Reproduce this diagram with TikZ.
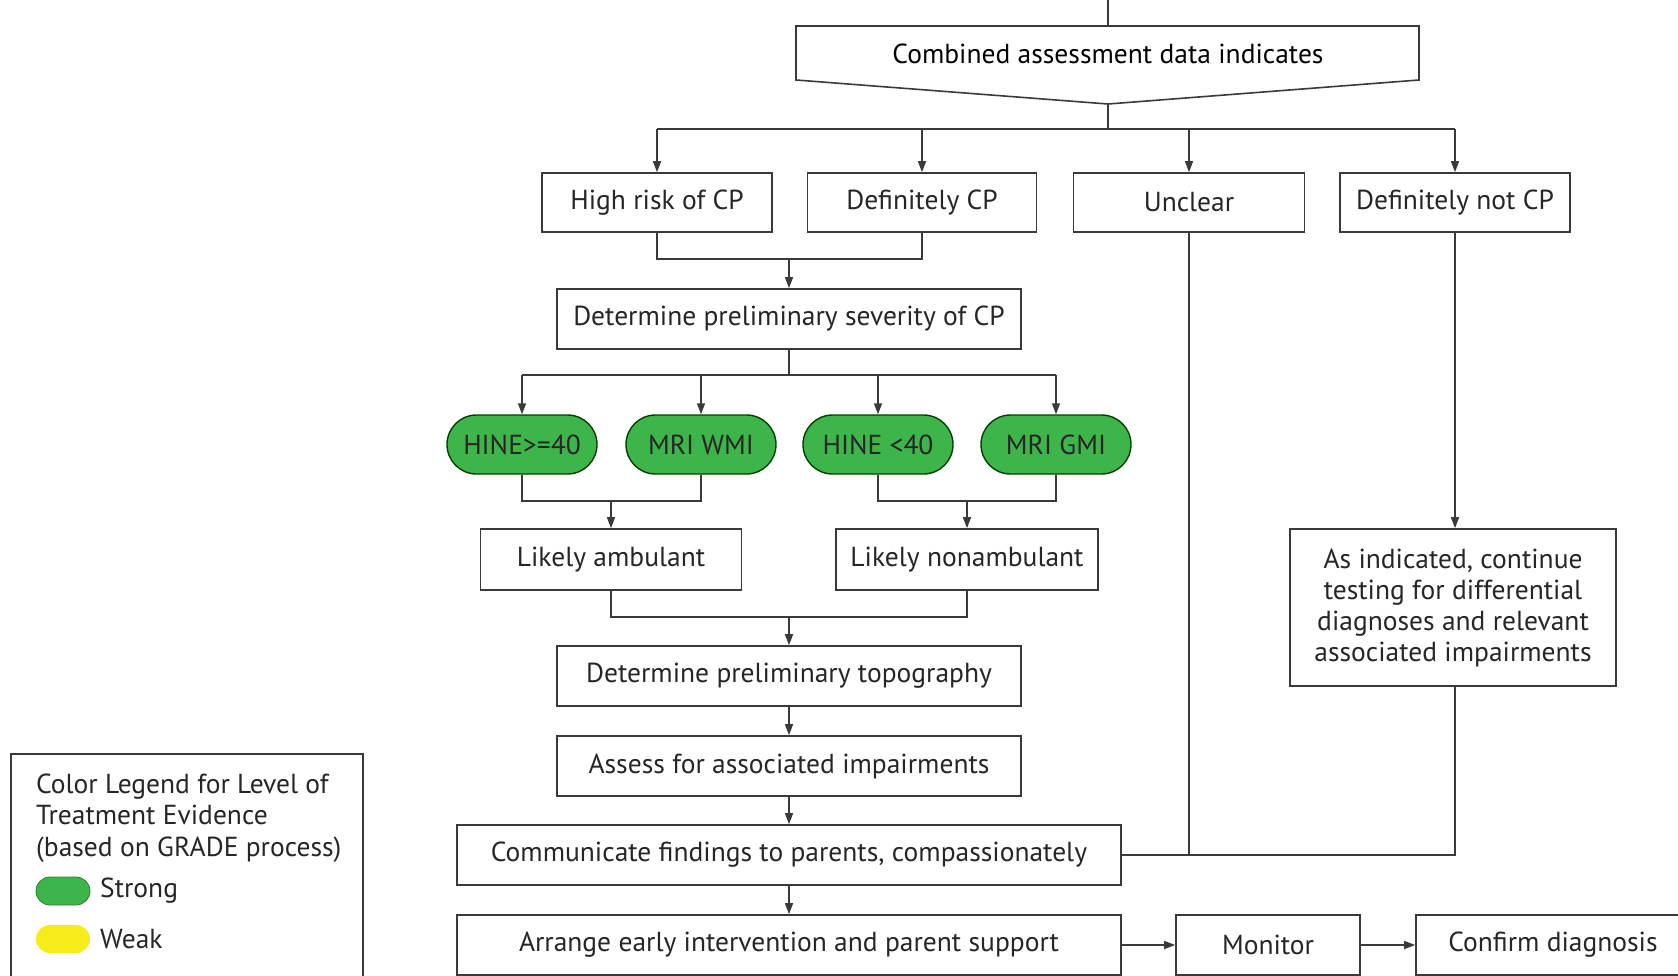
\documentclass[tikz,border=0pt]{standalone}
\usepackage{fontspec}
\setmainfont{PT Sans}
\usetikzlibrary{arrows.meta,shapes.misc}
\definecolor{ln}{HTML}{3A3A3A}
\definecolor{pillg}{HTML}{3DB54A}
\definecolor{legy}{HTML}{F7EC1B}
\begin{document}
\begin{tikzpicture}[x=1pt,y=-1pt,
  font=\fontsize{27.5}{33}\selectfont,
  box/.style={draw=ln, line width=1.6pt, fill=white, inner sep=0pt, text=black!85},
  pill/.style={rounded rectangle, draw=black!75!green, line width=1.4pt, fill=pillg, inner sep=0pt,
    minimum width=150pt, minimum height=59pt, text=black!85},
  con/.style={draw=ln, line width=1.5pt},
  arr/.style={con, -{Triangle[length=11pt,width=8pt]}}]
\useasboundingbox (0,0) rectangle (1678,976);
% combined assessment
\coordinate (top) at (1108,0);
\coordinate (combtop) at (1108,26);
\coordinate (combtip) at (1108,104);
\draw[con, line width=1.6pt] (796,26) -- (1419,26) -- (1419,80) -- (combtip) -- (796,80) -- cycle;
\node (comb) at (1108,54) {Combined assessment data indicates};
\draw[con] (top) -- (combtop);
\coordinate (bus1) at (1108,129);
\draw[con] (combtip) -- (bus1);
% row 1
\node[box, minimum width=230pt, minimum height=59pt] (high) at (657,202.5) {High risk of CP};
\node[box, minimum width=229pt, minimum height=59pt] (defcp) at (922,202.5) {Definitely CP};
\node[box, minimum width=231pt, minimum height=59pt] (unclear) at (1189,202.5) {Unclear};
\node[box, minimum width=230pt, minimum height=59pt] (notcp) at (1455,202.5) {Definitely not CP};
\draw[con] (high.north |- bus1) -- (notcp.north |- bus1);
\foreach \n in {high,defcp,unclear,notcp} \draw[arr] (\n.north |- bus1) -- (\n.north);
% severity
\coordinate (j1) at (789,259);
\draw[con] (high.south) |- (j1);
\draw[con] (defcp.south) |- (j1);
\node[box, minimum width=464pt, minimum height=60pt] (sev) at (789,319) {Determine preliminary severity of CP};
\draw[arr] (j1) -- (sev.north);
% pills
\coordinate (bus2) at (789,375);
\draw[con] (sev.south) -- (bus2);
\node[pill] (p1) at (522,444.5) {HINE>=40};
\node[pill] (p2) at (701,444.5) {MRI WMI};
\node[pill] (p3) at (878,444.5) {HINE <40};
\node[pill] (p4) at (1056,444.5) {MRI GMI};
\draw[con] (p1.north |- bus2) -- (p4.north |- bus2);
\foreach \n in {p1,p2,p3,p4} \draw[arr] (\n.north |- bus2) -- (\n.north);
% ambulant
\node[box, minimum width=261pt, minimum height=61pt] (amb) at (611,559.5) {Likely ambulant};
\node[box, minimum width=262pt, minimum height=61pt] (nonamb) at (967,559.5) {Likely nonambulant};
\coordinate (j2) at (611,501);
\coordinate (j3) at (967,501);
\draw[con] (p1.south) |- (j2);
\draw[con] (p2.south) |- (j2);
\draw[con] (p3.south) |- (j3);
\draw[con] (p4.south) |- (j3);
\draw[arr] (j2) -- (amb.north);
\draw[arr] (j3) -- (nonamb.north);
% topography
\coordinate (j4) at (789,617);
\draw[con] (amb.south) |- (j4);
\draw[con] (nonamb.south) |- (j4);
\node[box, minimum width=464pt, minimum height=60pt] (topo) at (789,676) {Determine preliminary topography};
\draw[arr] (j4) -- (topo.north);
\node[box, minimum width=464pt, minimum height=60pt] (assess) at (789,766) {Assess for associated impairments};
\draw[arr] (topo.south) -- (assess.north);
\node[box, minimum width=664pt, minimum height=60pt] (comm) at (789,855) {Communicate findings to parents, compassionately};
\draw[arr] (assess.south) -- (comm.north);
\node[box, minimum width=664pt, minimum height=60pt] (arrange) at (789,945) {Arrange early intervention and parent support};
\draw[arr] (comm.south) -- (arrange.north);
\node[box, minimum width=184pt, minimum height=60pt] (monitor) at (1268,945) {Monitor};
\node[box, minimum width=274pt, minimum height=60pt] (confirm) at (1553,945) {Confirm diagnosis};
\draw[arr] (arrange.east) -- (monitor.west);
\draw[arr] (monitor.east) -- (confirm.west);
% right branch
\node[box, minimum width=326pt, minimum height=157pt, align=center, font=\fontsize{27.5}{31}\selectfont] (asind) at (1453,607.5)
  {As indicated, continue\\testing for differential\\diagnoses and relevant\\associated impairments};
\draw[arr] (notcp.south) -- (notcp.south |- asind.north);
\draw[con] (unclear.south) |- (comm.east);
\draw[con] (asind.south -| notcp.south) |- (comm.east);
% legend
\draw[con, line width=1.6pt] (11,754) rectangle (363,985);
\node[anchor=west, align=left, inner sep=0pt, font=\fontsize{27.5}{31.5}\selectfont, text=black!85] (legtxt) at (36,818)
  {Color Legend for Level of\\Treatment Evidence\\(based on GRADE process)};
\node[rounded rectangle, fill=pillg, draw=pillg!70!black, line width=0.8pt, minimum width=54pt, minimum height=28pt, inner sep=0pt] (lstrong) at (63,891) {};
\node[rounded rectangle, fill=legy, minimum width=54pt, minimum height=28pt, inner sep=0pt] (lweak) at (63,939) {};
\node[anchor=west, inner sep=0pt, text=black!85] (tstrong) at (100,891) {Strong};
\node[anchor=west, inner sep=0pt, text=black!85] (tweak) at (100,939) {Weak};
\end{tikzpicture}
\end{document}
